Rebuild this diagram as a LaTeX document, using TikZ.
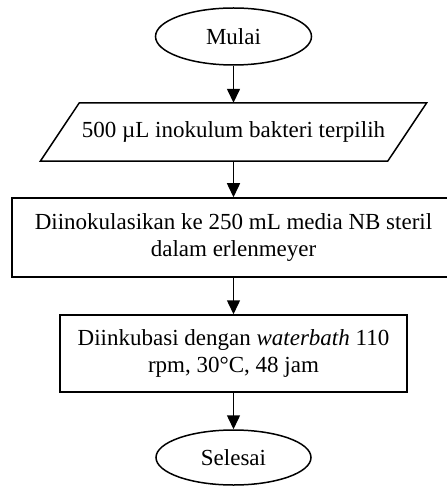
\documentclass[tikz,border=0pt]{standalone}
\usepackage{fontspec}
\setmainfont{Liberation Serif}
\usetikzlibrary{shapes.geometric,arrows.meta}
\begin{document}
\begin{tikzpicture}[x=1pt,y=-1pt,
  every node/.style={font=\fontsize{23}{26.5}\selectfont, align=center, inner sep=0pt},
  term/.style={draw, ellipse, line width=1.5pt},
  proc/.style={draw, rectangle, line width=1.5pt},
  flow/.style={line width=1.5pt, -{Triangle[length=14pt,width=13pt]}},
  para/.style={line width=1.5pt}]
\useasboundingbox (0,0) rectangle (446,486);
\node[term, minimum width=156pt, minimum height=57pt] (start) at (233.5,36.5) {Mulai};
\node[minimum width=347pt, minimum height=58pt] (inp) at (233.5,132) {500 µL inokulum bakteri terpilih};
\draw[para] ([xshift=19.5pt]inp.north west) -- ([xshift=19.5pt]inp.north east) -- ([xshift=-19.5pt]inp.south east) -- ([xshift=-19.5pt]inp.south west) -- cycle;
\node[proc, minimum width=443pt, minimum height=79pt] (p1) at (233.5,237.5) {Diinokulasikan ke 250 mL media NB steril\\dalam erlenmeyer};
\node[proc, minimum width=347pt, minimum height=77pt] (p2) at (233.5,353.5) {Diinkubasi dengan \textit{waterbath} 110\\rpm, 30°C, 48 jam};
\node[term, minimum width=155pt, minimum height=55pt] (end) at (233.5,457.5) {Selesai};
\draw[flow] (start.south) -- (inp.north);
\draw[flow] (inp.south) -- (p1.north);
\draw[flow] (p1.south) -- (p2.north);
\draw[flow] (p2.south) -- (end.north);
\end{tikzpicture}
\end{document}
